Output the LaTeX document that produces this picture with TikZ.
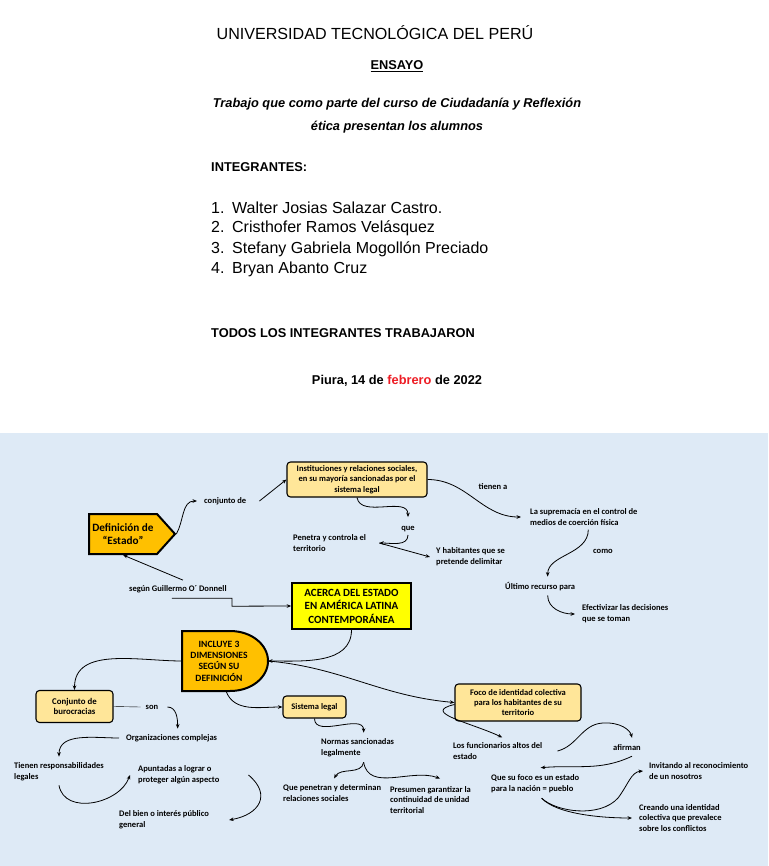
\documentclass[tikz,border=0pt]{standalone}
\usepackage{fontspec}
\setmainfont{Liberation Sans}
\newfontfamily\mapfont{Carlito}
\usetikzlibrary{arrows.meta,shapes.symbols}

\definecolor{mapbg}{HTML}{DEEAF6}
\definecolor{boxyellow}{HTML}{FFE699}
\definecolor{stateorange}{HTML}{FFC000}
\definecolor{titleyellow}{HTML}{FFFF00}
\definecolor{dayred}{HTML}{EE1C24}

\tikzset{
  headtext/.style={inner sep=0pt},
  mapnote/.style={font=\mapfont\bfseries\fontsize{8.5}{10.8}\selectfont, align=left, inner sep=1pt},
  softbox/.style={draw, rounded corners=3.5pt, fill=boxyellow, line width=1.1pt, align=center,
    inner sep=1pt, font=\mapfont\bfseries\fontsize{8.5}{10.5}\selectfont},
  link/.style={-{Stealth[length=4.5pt,width=3.6pt]}, line width=0.8pt},
}

\begin{document}
\begin{tikzpicture}[x=1pt,y=1pt]

% -------------------------------------------------
% Page
% -------------------------------------------------
\fill[white] (0,0) rectangle (768,-866);
\useasboundingbox (0,0) rectangle (768,-866);

% -------------------------------------------------
% Portada
% -------------------------------------------------
\node[headtext, font=\fontsize{16.1}{19}\selectfont] (uni) at (375,-33) {UNIVERSIDAD TECNOLÓGICA DEL PERÚ};
\node[headtext, font=\bfseries\fontsize{12.8}{15}\selectfont] (ensayo) at (397,-66) {\underline{ENSAYO}};
\node[headtext, font=\bfseries\itshape\fontsize{12.8}{23}\selectfont, align=center] (trabajo) at (397,-115.5)
  {Trabajo que como parte del curso de Ciudadanía y Reflexión\\ética presentan los alumnos};
\node[headtext, anchor=west, font=\bfseries\fontsize{12.8}{15}\selectfont] (integ) at (211,-167) {INTEGRANTES:};

\foreach \i/\who in {1/Walter Josias Salazar Castro., 2/Cristhofer Ramos Velásquez,
                     3/Stefany Gabriela Mogollón Preciado, 4/Bryan Abanto Cruz}
  \node[headtext, anchor=west, font=\fontsize{16}{19}\selectfont] (member\i) at (211,{-187.4-20.6*\i})
    {\makebox[21pt][l]{\i.}\who};

\node[headtext, anchor=west, font=\bfseries\fontsize{12.8}{15}\selectfont] (todos) at (211,-333) {TODOS LOS INTEGRANTES TRABAJARON};
\node[headtext, font=\bfseries\fontsize{12.8}{15}\selectfont] (fecha) at (397,-381)
  {Piura, 14 de \textcolor{dayred}{febrero} de 2022};

% -------------------------------------------------
% Mapa conceptual
% -------------------------------------------------
\fill[mapbg] (0,-433) rectangle (768,-866);

% nodos principales
\node[signal, signal to=east, signal from=nowhere, signal pointer angle=96, draw, fill=stateorange,
  line width=2pt, minimum width=86pt, minimum height=40pt, inner sep=1pt, align=center,
  font=\mapfont\bfseries\fontsize{11.2}{13.5}\selectfont] (def) at (123,-534) {Definición de\\“Estado”};

\node[softbox, minimum width=140pt, minimum height=35pt] (inst) at (357,-479.5)
  {Instituciones y relaciones sociales,\\en su mayoría sancionadas por el\\sistema legal};

\node[draw, fill=titleyellow, line width=1.6pt, minimum width=119pt, minimum height=46pt, inner sep=1pt,
  align=center, font=\mapfont\bfseries\fontsize{11}{13.5}\selectfont] (acerca) at (351.5,-606)
  {ACERCA DEL ESTADO\\EN AMÉRICA LATINA\\CONTEMPORÁNEA};

% forma de D
\draw[fill=stateorange, line width=2pt] (182,-631) -- (230,-631)
  .. controls (252,-631) and (268,-645) .. (268,-661)
  .. controls (268,-677) and (252,-691) .. (230,-691) -- (182,-691) -- cycle;
\node[inner sep=1pt, align=center, font=\mapfont\bfseries\fontsize{9.6}{11.3}\selectfont] (incl) at (219,-661)
  {INCLUYE 3\\DIMENSIONES\\SEGÚN SU\\DEFINICIÓN};
\coordinate (inclR) at (268,-661);
\coordinate (inclL) at (182,-661);
\coordinate (inclB) at (226,-691);

\node[softbox, minimum width=77pt, minimum height=32pt, font=\mapfont\bfseries\fontsize{8.8}{10.7}\selectfont]
  (conjb) at (74.5,-706.5) {Conjunto de\\burocracias};
\node[softbox, minimum width=63pt, minimum height=22pt] (sist) at (314.5,-707) {Sistema legal};
\node[softbox, minimum width=126pt, minimum height=37pt, font=\mapfont\bfseries\fontsize{8.5}{10}\selectfont]
  (foco) at (518,-702.5) {Foco de identidad colectiva\\para los habitantes de su\\territorio};

% textos libres
\node[mapnote, anchor=west] (conj) at (203,-501) {conjunto de};
\node[mapnote, anchor=west] (pen) at (292,-543) {Penetra y controla el\\territorio};
\node[mapnote] (que) at (408,-529) {que};
\node[mapnote, anchor=west] (hab) at (435,-557) {Y habitantes que se\\pretende delimitar};
\node[mapnote] (tienen) at (493,-487) {tienen a};
\node[mapnote, anchor=west] (sup) at (529,-517) {La supremacía en el control de\\medios de coerción física};
\node[mapnote] (como) at (603,-551) {como};
\node[mapnote, anchor=west] (ult) at (504,-587) {Último recurso para};
\node[mapnote, anchor=west] (efec) at (581,-614) {Efectivizar las decisiones\\que se toman};
\node[mapnote, anchor=west] (segun) at (128,-589) {según Guillermo O´ Donnell};
\node[mapnote] (son) at (152,-707) {son};
\node[mapnote, anchor=west] (org) at (125,-738) {Organizaciones complejas};
\node[mapnote, anchor=west] (resp) at (13,-772) {Tienen responsabilidades\\legales};
\node[mapnote, anchor=west] (apun) at (137,-775) {Apuntadas a lograr o\\proteger algún aspecto};
\node[mapnote, anchor=west] (bien) at (118,-820) {Del bien o interés público\\general};
\node[mapnote, anchor=west] (norm) at (320,-748) {Normas sancionadas\\legalmente};
\node[mapnote, anchor=west] (qpen) at (282,-793) {Que penetran y determinan\\relaciones sociales};
\node[mapnote, anchor=west] (pres) at (389,-800) {Presumen garantizar la\\continuidad de unidad\\territorial};
\node[mapnote, anchor=west] (func) at (452,-751) {Los funcionarios altos del\\estado};
\node[mapnote] (afir) at (627,-748) {afirman};
\node[mapnote, anchor=west] (qsu) at (490,-784) {Que su foco es un estado\\para la nación = pueblo};
\node[mapnote, anchor=west] (invit) at (648,-771) {Invitando al reconocimiento\\de un nosotros};
\node[mapnote, anchor=west] (crea) at (638,-818) {Creando una identidad\\colectiva que prevalece\\sobre los conflictos};

% conectores
\draw[link] (def.east) to[out=60,in=180] ([xshift=-6]conj.west);
\draw[link] ([xshift=12]conj.east) -- (inst.west);
\draw[link] (inst.south) to[out=-80,in=90] ([yshift=8]que.north);
\draw[link] ([yshift=-2]que.south) to[out=-90,in=0] ([xshift=12]pen.east);
\draw[link] ([xshift=12]pen.east) -- ([xshift=-5]hab.west);
\draw[link] (inst.east) to[out=0,in=180] ([xshift=-8]sup.west);
\draw[link] ([xshift=4.5,yshift=-3]sup.south) .. controls +(0,-25) and +(0,22) .. ([xshift=7.5,yshift=5]ult.north);
\draw[link] ([xshift=7.5,yshift=-3]ult.south) to[out=-90,in=180] ([xshift=-6]efec.west);

\draw[link] ([xshift=5,yshift=4]segun.north) -- (def.south);
\draw[link] ([xshift=-6,yshift=-4.3]segun.south) -- ++(60,0) -- ++(0,-8) -- (acerca.west);
\draw[link] (acerca.south) to[out=-90,in=0] (inclR);

\draw[link] (inclL) to[out=180,in=90] (conjb.north);
\draw (conjb.east) -- ([xshift=-4]son.west);
\draw[link] ([xshift=8]son.east) to[out=0,in=90] ([xshift=6,yshift=4.5]org.north);
\draw[link] ([xshift=-6]org.west) to[out=180,in=90] ([yshift=5]resp.north);
\draw[link] ([yshift=-3]resp.south) to[out=-80,in=-110,looseness=1.1] ([xshift=-7]apun.west);
\draw[link] ([xshift=28]apun.east) to[out=-40,in=10,looseness=1.6] ([xshift=19]bien.east);

\draw[link] (inclB) to[out=-70,in=180] (sist.west);
\draw[link] (sist.south) to[out=-90,in=90] ([xshift=6,yshift=5]norm.north);
\coordinate (normB) at ([xshift=6,yshift=-4]norm.south);
\draw[link] (normB) to[out=-100,in=60] ([xshift=2,yshift=5]qpen.north);
\draw[link] (normB) to[out=-80,in=160] ([xshift=9.5,yshift=6.5]pres.north);

\draw[link] (inclR) to[out=-5,in=175] (foco.west);
\draw[link] ([yshift=-2]foco.west) .. controls +(-34,-8) and +(-32,15) .. ([xshift=4.5,yshift=4]func.north);
\draw[link] ([xshift=14]func.east) .. controls +(20,5) and +(-21,-1) .. (603,-723)
  .. controls +(17,1) and +(-2,8) .. ([xshift=5,yshift=6]afir.north);
\draw[link] ([xshift=5,yshift=-4]afir.south) to[out=-155,in=5] ([xshift=5.5,yshift=6]qsu.north);
\coordinate (qsuB) at ([xshift=6.5,yshift=-4]qsu.south);
\draw[link] (qsuB) .. controls +(15,-14) and +(-18,-20) .. (618,-798)
  .. controls +(10,13) and +(-12,-1) .. ([xshift=-5]invit.west);
\draw[link] (qsuB) .. controls +(15,-16) and +(-30,0) .. ([xshift=-6]crea.west);

\end{tikzpicture}
\end{document}
